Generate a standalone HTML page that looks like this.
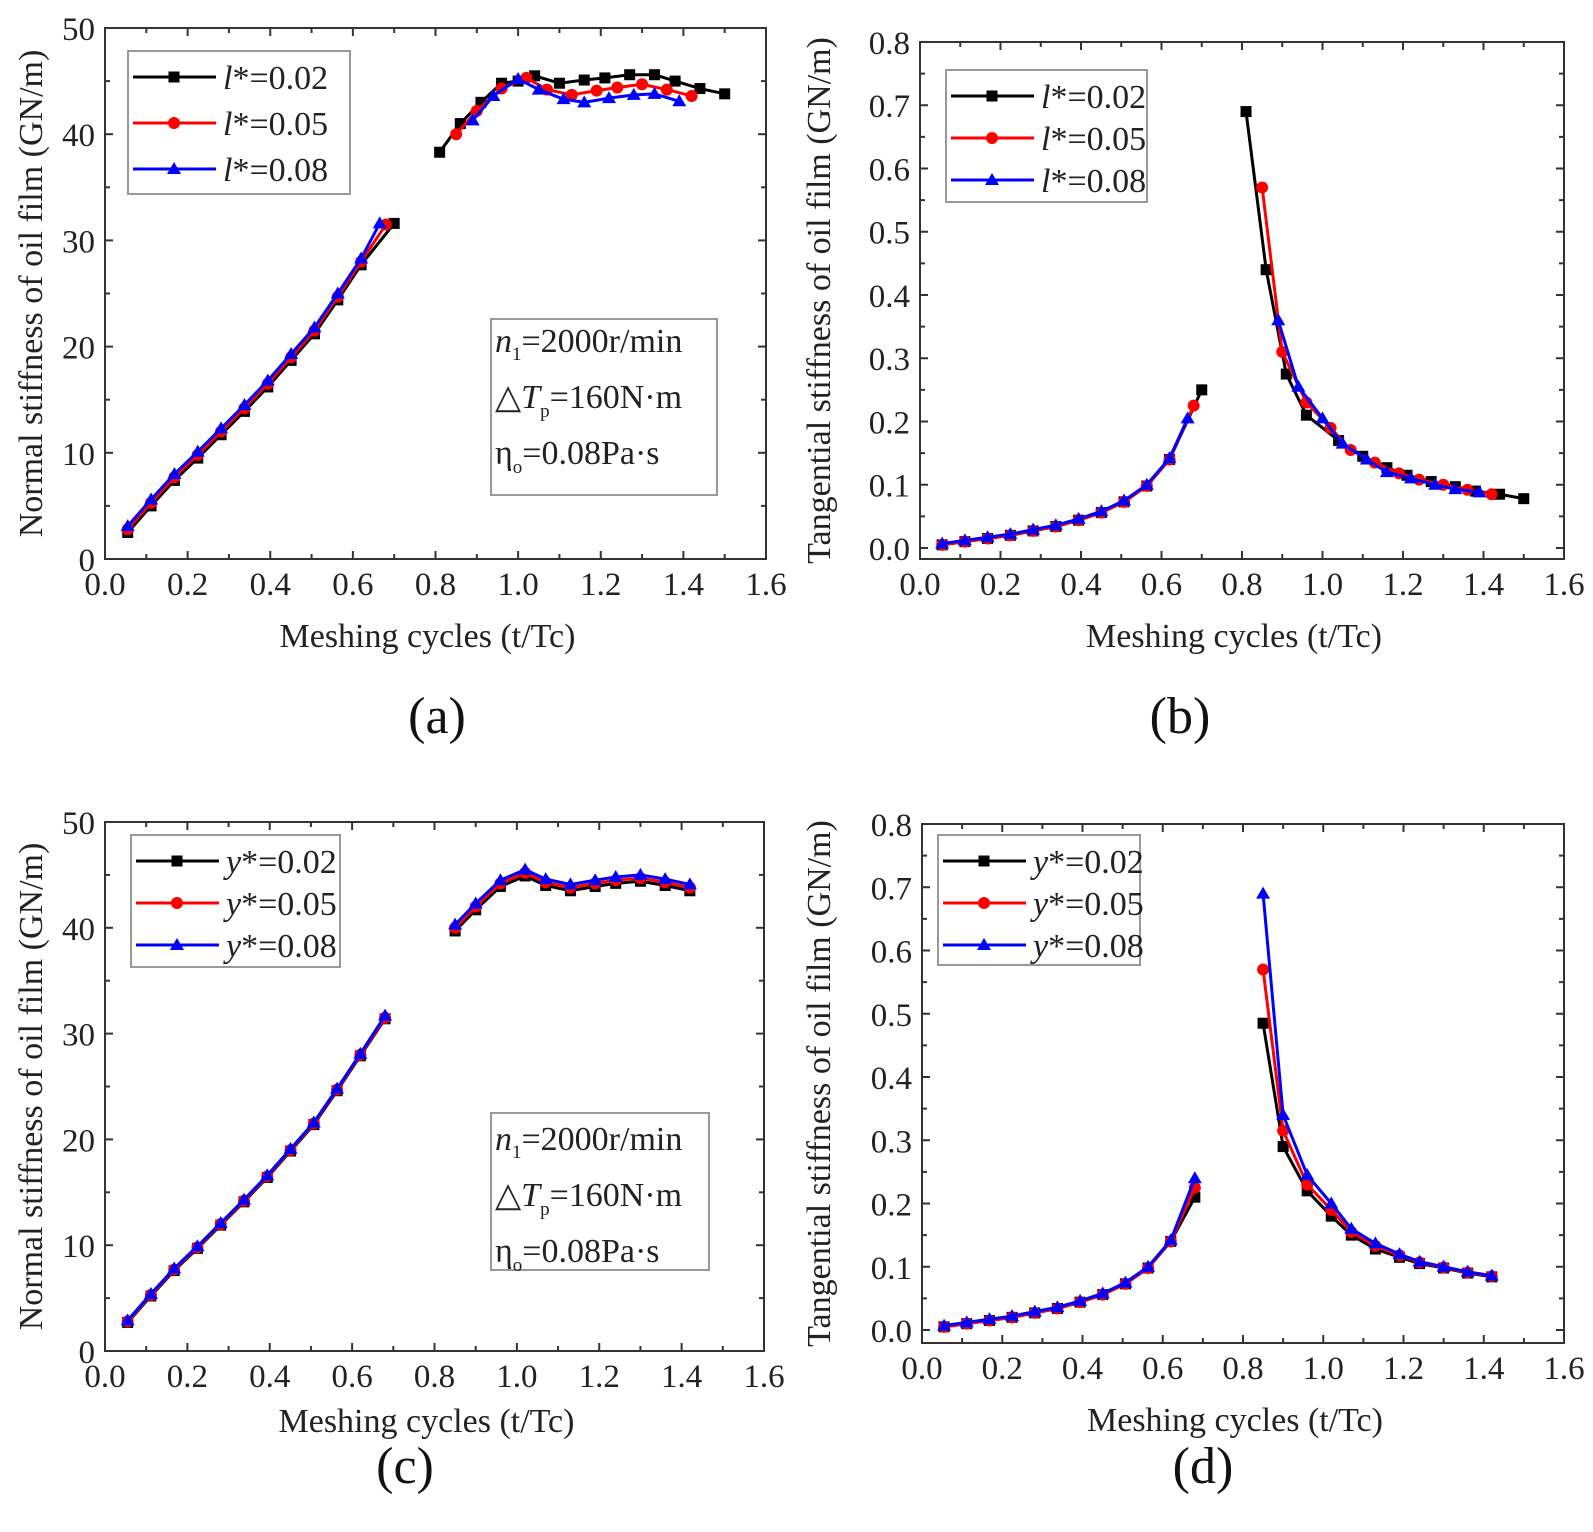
<!DOCTYPE html>
<html><head><meta charset="utf-8"><style>
html,body{margin:0;padding:0;background:#fff;}
svg{display:block;}
text{font-family:"Liberation Serif","Times New Roman",serif;}
</style></head><body>
<svg id="s" width="1593" height="1532" xmlns="http://www.w3.org/2000/svg"></svg>
<script>
const S=document.getElementById('s');let out='';
const FS=33;
function panel(P){
  const {L,R,T,B,xmin,xmax,ymin,ymax}=P;
  const X=x=>L+(x-xmin)/(xmax-xmin)*(R-L), Y=y=>B-(y-ymin)/(ymax-ymin)*(B-T);
  P.X=X;P.Y=Y;
  for(let i=0;i<=16;i++){const v=i*0.1,x=X(v),len=i%2==0?8:5;
    out+=`<line x1="${x}" y1="${B}" x2="${x}" y2="${B-len}" stroke="#333" stroke-width="2"/><line x1="${x}" y1="${T}" x2="${x}" y2="${T+len}" stroke="#333" stroke-width="2"/>`;
    if(i%2==0) out+=`<text x="${x}" y="${B+36}" font-size="${FS}" text-anchor="middle" fill="#222">${v.toFixed(1)}</text>`;}
  for(let i=0;i<P.yminor.length;i++){const y=Y(P.yminor[i]);const maj=P.ymaj.includes(P.yminor[i]);const len=maj?8:5;
    out+=`<line x1="${L}" y1="${y}" x2="${L+len}" y2="${y}" stroke="#333" stroke-width="2"/><line x1="${R}" y1="${y}" x2="${R-len}" y2="${y}" stroke="#333" stroke-width="2"/>`;}
  P.ymaj.forEach((v,i)=>{out+=`<text x="${L-10}" y="${Y(v)+12}" font-size="${FS}" text-anchor="end" fill="#222">${P.ylab[i]}</text>`;});
  out+=`<rect x="${L}" y="${T}" width="${R-L}" height="${B-T}" fill="none" stroke="#333" stroke-width="2"/>`;
  out+=`<text x="${(L+R)/2-8}" y="${B+P.xt}" font-size="34" text-anchor="middle" fill="#222">Meshing cycles (t/Tc)</text>`;
  out+=`<text transform="translate(${P.tx},${(T+B)/2}) rotate(-90)" font-size="34" text-anchor="middle" fill="#222">${P.title}</text>`;
}
function series(P,pts,color,mk){
  pts.forEach(seg=>{
    out+=`<polyline points="${seg.map(p=>P.X(p[0])+','+P.Y(p[1])).join(' ')}" fill="none" stroke="${color}" stroke-width="3"/>`;
    seg.forEach(p=>marker(P.X(p[0]),P.Y(p[1]),color,mk));
  });
}
function marker(x,y,c,mk){
  if(mk=='s')out+=`<rect x="${x-5.5}" y="${y-5.5}" width="11" height="11" fill="${c}"/>`;
  else if(mk=='c')out+=`<circle cx="${x}" cy="${y}" r="6" fill="${c}"/>`;
  else out+=`<polygon points="${x},${y-7} ${x-7},${y+5} ${x+7},${y+5}" fill="${c}"/>`;
}
function legend(x,y,w,h,dy,sym){
  out+=`<rect x="${x}" y="${y}" width="${w}" height="${h}" fill="#fff" stroke="#999" stroke-width="2"/>`;
  const cols=['#000','#f00','#00f'],mks=['s','c','t'],vals=['0.02','0.05','0.08'];
  for(let i=0;i<3;i++){const yy=y+26+i*dy;
    out+=`<line x1="${x+5}" y1="${yy}" x2="${x+88}" y2="${yy}" stroke="${cols[i]}" stroke-width="3"/>`;marker(x+46,yy,cols[i],mks[i]);
    out+=`<text x="${x+95}" y="${yy+12}" font-size="34" fill="#222"><tspan font-style="italic">${sym}</tspan>*=${vals[i]}</text>`;}
}
function infobox(x,y,w,h,b){
  out+=`<rect x="${x}" y="${y}" width="${w}" height="${h}" fill="#fff" stroke="#999" stroke-width="2"/>`;
  out+=`<text x="${x+4}" y="${b}" font-size="34" fill="#222"><tspan font-style="italic">n</tspan><tspan font-size="19" dy="8">1</tspan><tspan dy="-8">=2000r/min</tspan></text>`;
  out+=`<text x="${x+4}" y="${b+56}" font-size="34" fill="#222">△<tspan font-style="italic">T</tspan><tspan font-size="19" dy="9">p</tspan><tspan dy="-9">=160N·m</tspan></text>`;
  out+=`<text x="${x+4}" y="${b+112}" font-size="34" fill="#222">η<tspan font-size="19" dy="9">o</tspan><tspan dy="-9">=0.08Pa·s</tspan></text>`;
}
const xs=i=>0.055+0.0565*i;
const nA=[2.8,5.3,7.7,9.8,12,14.2,16.5,19,21.5,24.7,28,31.5];
const tA=[0.005,0.01,0.015,0.02,0.027,0.034,0.044,0.056,0.073,0.098,0.14,0.2];
function first(vals,off,last){const a=vals.slice(0,11).map((v,i)=>[xs(i),v+off]);a.push(last);return a;}
const yN=[0,10,20,30,40,50],yNm=[];for(let i=0;i<=10;i++)yNm.push(i*5);
const yT=[0,0.1,0.2,0.3,0.4,0.5,0.6,0.7,0.8],yTm=[];for(let i=0;i<=16;i++)yTm.push(+(i*0.05).toFixed(2));
let A={L:105,R:766,T:28,B:559,xt:88,xmin:0,xmax:1.6,ymin:0,ymax:50,ymaj:yN,yminor:yNm,ylab:yN.map(String),tx:42,title:'Normal stiffness of oil film (GN/m)'};
panel(A);
series(A,[first(nA,-0.3,[0.70,31.6]),[[0.81,38.3],[0.86,41],[0.91,43],[0.96,44.8],[1.0,45],[1.04,45.5],[1.10,44.8],[1.16,45.1],[1.21,45.3],[1.27,45.6],[1.33,45.6],[1.38,45],[1.44,44.3],[1.50,43.8]]],'#000','s');
series(A,[first(nA,0,[0.68,31.5]),[[0.85,40],[0.9,42.2],[0.96,44.3],[1.02,45.3],[1.07,44.2],[1.13,43.7],[1.19,44.1],[1.24,44.4],[1.30,44.7],[1.36,44.2],[1.42,43.6]]],'#f00','c');
series(A,[first(nA,0.3,[0.665,31.6]),[[0.89,41.3],[0.94,43.6],[1.0,45.2],[1.05,44.2],[1.11,43.3],[1.16,43],[1.22,43.4],[1.28,43.7],[1.33,43.8],[1.39,43.1]]],'#00f','t');
legend(128,51,222,143,46,'l');
infobox(491,319,226,176,352);
let Bp={L:920,R:1564,T:42,B:559,xt:88,xmin:0,xmax:1.6,ymin:-0.0174,ymax:0.8,ymaj:yT,yminor:yTm,ylab:yT.map(v=>v.toFixed(1)),tx:830,title:'Tangential stiffness of oil film (GN/m)'};
panel(Bp);
series(Bp,[first(tA,0,[0.70,0.25]),[[0.81,0.69],[0.86,0.44],[0.91,0.275],[0.96,0.21],[1.04,0.17],[1.10,0.145],[1.16,0.127],[1.21,0.115],[1.27,0.105],[1.33,0.097],[1.38,0.09],[1.44,0.085],[1.50,0.078]]],'#000','s');
series(Bp,[first(tA,0,[0.68,0.225]),[[0.85,0.57],[0.90,0.31],[0.96,0.23],[1.02,0.19],[1.07,0.155],[1.13,0.135],[1.19,0.118],[1.24,0.108],[1.30,0.1],[1.36,0.092],[1.42,0.085]]],'#f00','c');
series(Bp,[first(tA,0.002,[0.665,0.205]),[[0.89,0.36],[0.94,0.255],[1.0,0.205],[1.05,0.165],[1.11,0.14],[1.16,0.12],[1.22,0.11],[1.28,0.1],[1.33,0.093],[1.39,0.088]]],'#00f','t');
legend(946,70,201,132,42,'l');
let C={L:105,R:764,T:822,B:1351,xt:81,xmin:0,xmax:1.6,ymin:0,ymax:50,ymaj:yN,yminor:yNm,ylab:yN.map(String),tx:42,title:'Normal stiffness of oil film (GN/m)'};
panel(C);
const c2=[[0.85,40],[0.9,42],[0.96,44.2],[1.02,45.2],[1.07,44.3],[1.13,43.8],[1.19,44.2],[1.24,44.5],[1.30,44.7],[1.36,44.3],[1.42,43.8]];
series(C,[first(nA,-0.1,[0.68,31.4]),c2.map(p=>[p[0],p[1]-0.3])],'#000','s');
series(C,[first(nA,0,[0.68,31.5]),c2],'#f00','c');
series(C,[first(nA,0.1,[0.68,31.7]),c2.map(p=>[p[0],p[1]+0.3])],'#00f','t');
legend(131,835,209,132,42,'y');
infobox(491,1113,218,157,1150);
let D={L:922,R:1564,T:824,B:1343,xt:88,xmin:0,xmax:1.6,ymin:-0.0174,ymax:0.8,ymaj:yT,yminor:yTm,ylab:yT.map(v=>v.toFixed(1)),tx:830,title:'Tangential stiffness of oil film (GN/m)'};
D.ymin=-(1343-1330)/((1330-824)/0.8);
panel(D);
const dx=[0.85,0.90,0.96,1.02,1.07,1.13,1.19,1.24,1.30,1.36,1.42];
const dk=[0.485,0.29,0.22,0.18,0.15,0.128,0.115,0.105,0.098,0.09,0.084];
const dr=[0.57,0.315,0.23,0.19,0.155,0.133,0.118,0.107,0.099,0.091,0.085];
const db=[0.69,0.34,0.245,0.2,0.16,0.137,0.12,0.108,0.1,0.092,0.086];
series(D,[first(tA,0,[0.68,0.21]),dx.map((x,i)=>[x,dk[i]])],'#000','s');
series(D,[first(tA,0,[0.68,0.225]),dx.map((x,i)=>[x,dr[i]])],'#f00','c');
series(D,[first(tA,0.002,[0.68,0.24]),dx.map((x,i)=>[x,db[i]])],'#00f','t');
legend(938,835,202,130,42,'y');
out+=`<text x="437" y="733" font-size="52" text-anchor="middle" fill="#111">(a)</text>`;
out+=`<text x="1180" y="733" font-size="52" text-anchor="middle" fill="#111">(b)</text>`;
out+=`<text x="405" y="1483" font-size="52" text-anchor="middle" fill="#111">(c)</text>`;
out+=`<text x="1203" y="1483" font-size="52" text-anchor="middle" fill="#111">(d)</text>`;
S.innerHTML=out;
</script>
</body></html>
